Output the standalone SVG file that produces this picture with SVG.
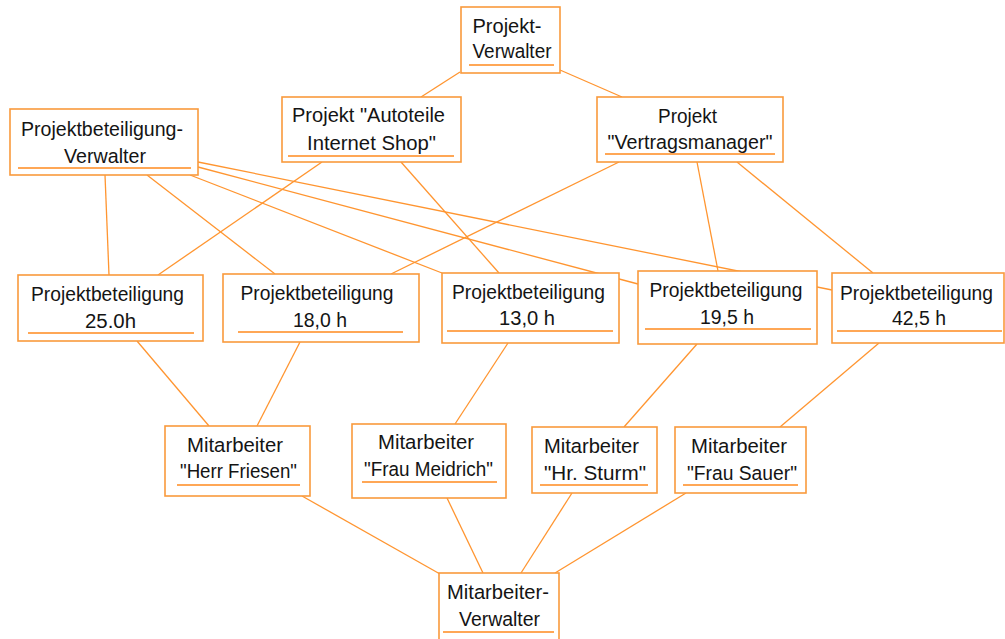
<svg xmlns="http://www.w3.org/2000/svg" width="1005" height="639" viewBox="0 0 1005 639">
  <style>
    .box { fill: #ffffff; stroke: #F99A3C; stroke-width: 1.6; }
    .ul { stroke: #FF8A1E; stroke-width: 1.5; }
    .edge { stroke: #FF9530; stroke-width: 1.3; fill: none; }
    text { font-family: "Liberation Sans", Arial, sans-serif; font-size: 20.5px; fill: #141414; text-anchor: middle; }
  </style>
  <rect width="1005" height="639" fill="#ffffff"/>

  <!-- connectors -->
  <g id="connectors">
    <line class="edge" x1="460" y1="72" x2="421" y2="97"/>
    <line class="edge" x1="560" y1="70" x2="622" y2="97"/>
    <line class="edge" x1="105" y1="175" x2="109" y2="275"/>
    <line class="edge" x1="147" y1="175" x2="275" y2="274"/>
    <line class="edge" x1="190" y1="175" x2="442" y2="273"/>
    <line class="edge" x1="198" y1="167" x2="638" y2="284"/>
    <line class="edge" x1="198" y1="162" x2="832" y2="290"/>
    <line class="edge" x1="322" y1="162" x2="158" y2="275"/>
    <line class="edge" x1="401" y1="162" x2="499" y2="273"/>
    <line class="edge" x1="619" y1="162" x2="391" y2="274"/>
    <line class="edge" x1="697" y1="162" x2="718" y2="271"/>
    <line class="edge" x1="737" y1="162" x2="873" y2="273"/>
    <line class="edge" x1="137" y1="341" x2="209" y2="426"/>
    <line class="edge" x1="300" y1="342" x2="257" y2="426"/>
    <line class="edge" x1="508" y1="343" x2="455" y2="424"/>
    <line class="edge" x1="697" y1="344" x2="624" y2="427"/>
    <line class="edge" x1="879" y1="343" x2="780" y2="427"/>
    <line class="edge" x1="302" y1="496" x2="440" y2="574"/>
    <line class="edge" x1="447" y1="498" x2="483" y2="573"/>
    <line class="edge" x1="572" y1="493" x2="521" y2="573"/>
    <line class="edge" x1="686" y1="493" x2="555" y2="573"/>
  </g>

  <g id="projekt-verwalter">
    <rect class="box" x="461" y="7" width="99" height="66"/>
    <text x="507" y="33" textLength="69" lengthAdjust="spacingAndGlyphs">Projekt-</text>
    <text x="512" y="58" textLength="79" lengthAdjust="spacingAndGlyphs">Verwalter</text>
    <line class="ul" x1="469" y1="65" x2="554" y2="65"/>
  </g>

  <g id="pb-verwalter">
    <rect class="box" x="10" y="109" width="188" height="66"/>
    <text x="102" y="136" textLength="162" lengthAdjust="spacingAndGlyphs">Projektbeteiligung-</text>
    <text x="105" y="163" textLength="82" lengthAdjust="spacingAndGlyphs">Verwalter</text>
    <line class="ul" x1="18" y1="168" x2="191" y2="168"/>
  </g>

  <g id="projekt-autoteile">
    <rect class="box" x="282" y="97" width="179" height="65"/>
    <text x="368.5" y="122" textLength="153" lengthAdjust="spacingAndGlyphs">Projekt "Autoteile</text>
    <text x="371.5" y="150" textLength="129" lengthAdjust="spacingAndGlyphs">Internet Shop"</text>
    <line class="ul" x1="288" y1="156" x2="454" y2="156"/>
  </g>

  <g id="projekt-vertragsmanager">
    <rect class="box" x="597" y="97" width="186" height="65"/>
    <text x="687.5" y="123" textLength="59" lengthAdjust="spacingAndGlyphs">Projekt</text>
    <text x="690" y="149" textLength="165" lengthAdjust="spacingAndGlyphs">"Vertragsmanager"</text>
    <line class="ul" x1="605" y1="154" x2="775" y2="154"/>
  </g>

  <g id="pb-25">
    <rect class="box" x="18" y="275" width="185" height="66"/>
    <text x="107.5" y="301" textLength="153" lengthAdjust="spacingAndGlyphs">Projektbeteiligung</text>
    <text x="110.5" y="328" textLength="51" lengthAdjust="spacingAndGlyphs">25.0h</text>
    <line class="ul" x1="28" y1="333" x2="194" y2="333"/>
  </g>

  <g id="pb-18">
    <rect class="box" x="223" y="274" width="196" height="68"/>
    <text x="317" y="300" textLength="153" lengthAdjust="spacingAndGlyphs">Projektbeteiligung</text>
    <text x="320" y="327" textLength="54" lengthAdjust="spacingAndGlyphs">18,0 h</text>
    <line class="ul" x1="238" y1="332" x2="403" y2="332"/>
  </g>

  <g id="pb-13">
    <rect class="box" x="442" y="273" width="177" height="70"/>
    <text x="528.5" y="299" textLength="153" lengthAdjust="spacingAndGlyphs">Projektbeteiligung</text>
    <text x="527" y="325" textLength="56" lengthAdjust="spacingAndGlyphs">13,0 h</text>
    <line class="ul" x1="447" y1="331" x2="613" y2="331"/>
  </g>

  <g id="pb-19-5">
    <rect class="box" x="638" y="271" width="179" height="73"/>
    <text x="726" y="297" textLength="153" lengthAdjust="spacingAndGlyphs">Projektbeteiligung</text>
    <text x="727" y="324" textLength="54" lengthAdjust="spacingAndGlyphs">19,5 h</text>
    <line class="ul" x1="645" y1="329" x2="811" y2="329"/>
  </g>

  <g id="pb-42-5">
    <rect class="box" x="832" y="273" width="172" height="70"/>
    <text x="916.5" y="300" textLength="153" lengthAdjust="spacingAndGlyphs">Projektbeteiligung</text>
    <text x="919" y="325" textLength="54" lengthAdjust="spacingAndGlyphs">42,5 h</text>
    <line class="ul" x1="837" y1="331" x2="1002" y2="331"/>
  </g>

  <g id="ma-friesen">
    <rect class="box" x="165" y="426" width="145" height="70"/>
    <text x="235" y="452" textLength="96" lengthAdjust="spacingAndGlyphs">Mitarbeiter</text>
    <text x="238.5" y="478" textLength="117" lengthAdjust="spacingAndGlyphs">"Herr Friesen"</text>
    <line class="ul" x1="177" y1="485" x2="300" y2="485"/>
  </g>

  <g id="ma-meidrich">
    <rect class="box" x="352" y="424" width="154" height="74"/>
    <text x="426" y="449" textLength="96" lengthAdjust="spacingAndGlyphs">Mitarbeiter</text>
    <text x="428.5" y="476" textLength="129" lengthAdjust="spacingAndGlyphs">"Frau Meidrich"</text>
    <line class="ul" x1="362" y1="482" x2="497" y2="482"/>
  </g>

  <g id="ma-sturm">
    <rect class="box" x="532" y="427" width="125" height="66"/>
    <text x="591.5" y="453" textLength="95" lengthAdjust="spacingAndGlyphs">Mitarbeiter</text>
    <text x="595" y="480" textLength="102" lengthAdjust="spacingAndGlyphs">"Hr. Sturm"</text>
    <line class="ul" x1="540" y1="485" x2="648" y2="485"/>
  </g>

  <g id="ma-sauer">
    <rect class="box" x="675" y="427" width="131" height="66"/>
    <text x="739" y="453" textLength="96" lengthAdjust="spacingAndGlyphs">Mitarbeiter</text>
    <text x="742" y="480" textLength="110" lengthAdjust="spacingAndGlyphs">"Frau Sauer"</text>
    <line class="ul" x1="683" y1="485" x2="798" y2="485"/>
  </g>

  <g id="ma-verwalter">
    <rect class="box" x="439" y="573" width="120" height="70"/>
    <text x="498" y="599" textLength="102" lengthAdjust="spacingAndGlyphs">Mitarbeiter-</text>
    <text x="499.5" y="626" textLength="81" lengthAdjust="spacingAndGlyphs">Verwalter</text>
    <line class="ul" x1="443" y1="632" x2="554" y2="632"/>
  </g>
</svg>
